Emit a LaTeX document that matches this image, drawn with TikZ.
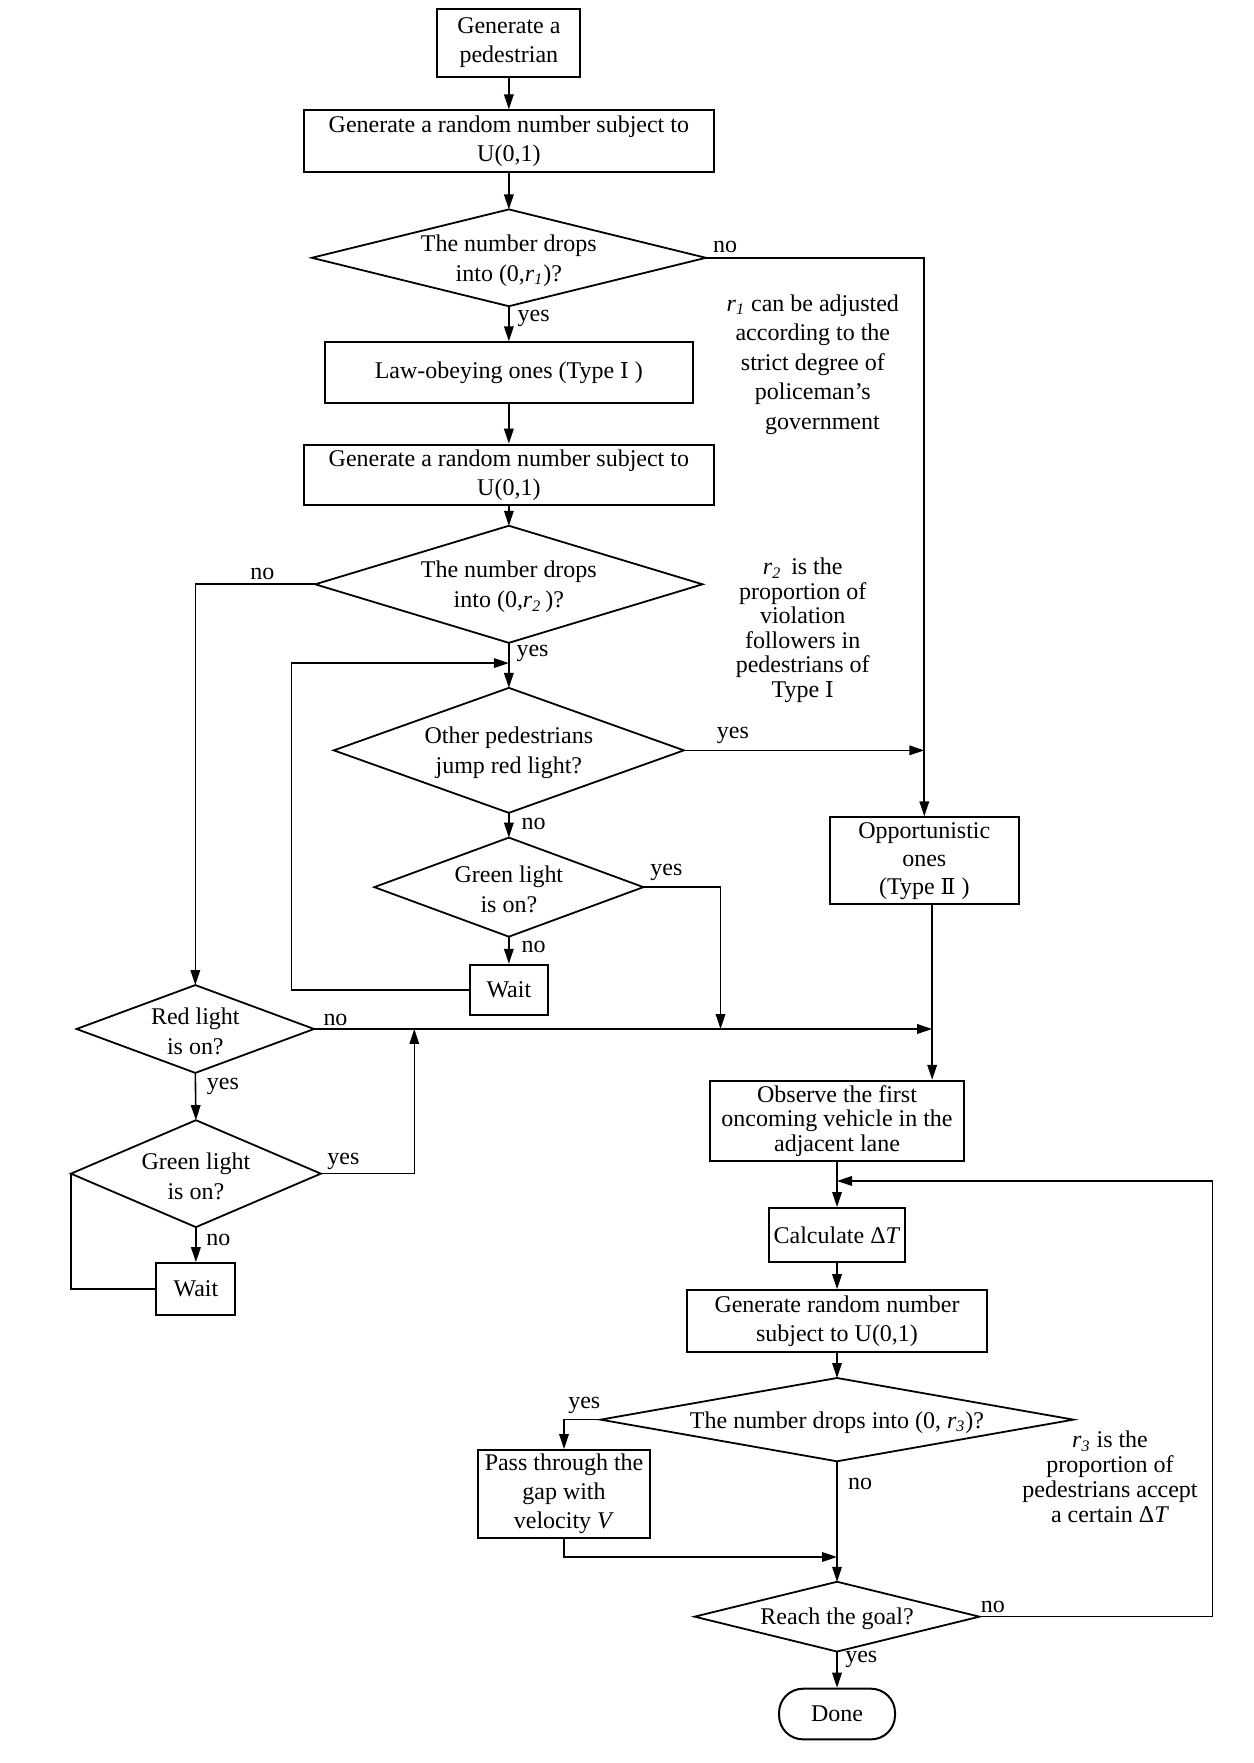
\documentclass[tikz,border=0pt]{standalone}
\usepackage{fontspec}
\setmainfont{Liberation Serif}
\newfontfamily\romf{DejaVu Serif}
\usetikzlibrary{arrows.meta}
\newcommand\rr[1]{\textit{r}\textsubscript{\textit{#1}}}
\newcommand\fs[1]{\fontsize{12}{#1}\selectfont}
\newcommand\TI{{\romf\fontsize{11}{12}\selectfont Ⅰ}}
\newcommand\TII{{\romf\fontsize{11}{12}\selectfont Ⅱ}}
% name, cx, cy, half width, half height, text
\newcommand\mydiam[6]{%
  \node[dtext] (#1) at (#2,#3) {#6};
  \coordinate (#1-n) at (#2,#3-#5);
  \coordinate (#1-s) at (#2,#3+#5);
  \coordinate (#1-w) at (#2-#4,#3);
  \coordinate (#1-e) at (#2+#4,#3);
  \draw[shp] (#1-n) -- (#1-e) -- (#1-s) -- (#1-w) -- cycle;
}
\begin{document}
\begin{tikzpicture}[x=0.5633pt,y=-0.5633pt,
  shp/.style={line width=0.9pt, line join=miter},
  box/.style={draw, line width=1pt, inner sep=1pt, align=center, font=\fs{14.8}},
  sz/.style 2 args={minimum width={#1*0.5633pt}, minimum height={#2*0.5633pt}},
  dtext/.style={inner sep=0pt, align=center, font=\fs{15}, yshift=-1.3pt},
  lab/.style={inner sep=0pt, font=\fs{14}},
  note/.style={inner sep=0pt, align=center, yshift=-1pt},
  conn/.style={line width=0.8pt},
  arr/.style={conn, -{Triangle[length=7.5pt,width=4.8pt]}}
]
\useasboundingbox (0,0) rectangle (1113,1566);

% ---------- upper column ----------
\node[box, sz={127}{60}] (gen) at (452,38) {Generate a\\pedestrian};
\node[box, sz={364}{55}] (rnd1) at (452,125.5) {Generate a random number subject to\\U(0,1)};
\mydiam{d1}{452}{229}{175}{43}{The number drops\\into (0,\rr{1})?}
\node[box, sz={327}{54}] (law) at (452,331) {Law-obeying ones (Type \TI\ )};
\node[box, sz={364}{54}] (rnd2) at (452,422) {Generate a random number subject to\\U(0,1)};
\mydiam{d2}{452}{519}{172}{52}{The number drops\\into (0,\rr{2}\,)?}
\mydiam{d3}{452}{666.5}{155.5}{55.5}{Other pedestrians\\jump red light?}
\mydiam{d4}{452}{788}{119.5}{44}{Green light\\is on?}
\node[box, sz={69}{45}] (wait1) at (452,879.5) {Wait};
\node[box, sz={168}{77}, font=\fs{14}] (opp) at (821,764.5) {Opportunistic\\ones\\(Type \TII\ )};

% ---------- left column ----------
\mydiam{red}{173.5}{914}{105.5}{39}{Red light\\is on?}
\mydiam{g2}{174}{1042.5}{111}{47.5}{Green light\\is on?}
\node[box, sz={70}{46}] (wait2) at (174,1145) {Wait};

% ---------- lower column ----------
\node[box, sz={225}{71}, font=\fs{12.3}] (obs) at (743.5,995.5) {Observe the first\\oncoming vehicle in the\\adjacent lane};
\node[box, sz={120}{48}] (calc) at (743.5,1097) {Calculate Δ\textit{T}};
\node[box, sz={266}{55}] (rnd3) at (743.5,1173.5) {Generate random number\\subject to U(0,1)};
\mydiam{d5}{743.5}{1261}{210}{37}{The number drops into (0, \rr{3})?}
\node[box, sz={152}{78}, font=\fs{14.5}] (pass) at (501,1327) {Pass through the\\gap with\\velocity \textit{V}};
\mydiam{d6}{743.5}{1436}{126.5}{31}{Reach the goal?}
\node[draw, line width=1pt, rounded corners=12pt, sz={103}{45}, font=\fs{15}] (done) at (743.5,1522.5) {Done};

% ---------- notes ----------
\node[note, font=\fs{14.8}] (n1) at (722,322) {\rr{1} can be adjusted\\according to the\\strict degree of\\policeman’s\hspace*{1.2em}\\\hspace*{0.8em}government};
\node[note, font=\fs{12.3}] (n2) at (713,558) {\rr{2}\, is the\\proportion of\\violation\\followers in\\pedestrians of\\Type \TI};
\node[note, font=\fs{12.4}] (n3) at (986,1310) {\rr{3} is the\\proportion of\\pedestrians accept\\a certain Δ\textit{T}};

% ---------- junction points ----------
\coordinate (lp1) at (259,589);
\coordinate (j1) at (452,589);
\coordinate (j2) at (821,666.5);
\coordinate (j3) at (640,914);
\coordinate (j4) at (828,914);
\coordinate (j5) at (368,914);
\coordinate (lp2) at (1077,1049);
\coordinate (j6) at (743.5,1049);
\coordinate (j7) at (743.5,1383);

% ---------- connectors ----------
\draw[arr] (gen) -- (rnd1);
\draw[arr] (rnd1) -- (d1-n);
\draw[arr] (d1-s) -- (law);
\draw[arr] (d1-e) -| (opp);
\draw[arr] (law) -- (rnd2);
\draw[arr] (rnd2) -- (d2-n);
\draw[arr] (d2-s) -- (d3-n);
\draw[arr] (d2-w) -| (red-n);
\draw[arr] (wait1.west) -| (lp1) -- (j1);
\draw[arr] (d3-e) -- (j2);
\draw[arr] (d3-s) -- (d4-n);
\draw[arr] (d4-s) -- (wait1);
\draw[arr] (d4-e) -| (j3);
\draw[arr] (red-e) -- (j4);
\draw[arr] (red-s) -- (g2-n);
\draw[arr] (g2-e) -| (j5);
\draw[arr] (g2-s) -- (wait2);
\draw[conn] (wait2.west) -| (g2-w);
\draw[arr] (opp.south -| j4) -- (obs.north -| j4);
\draw[arr] (obs) -- (calc);
\draw[arr] (d6-e) -| (lp2) -- (j6);
\draw[arr] (calc) -- (rnd3);
\draw[arr] (rnd3) -- (d5-n);
\draw[arr] (d5-w) -| (pass);
\draw[arr] (d5-s) -- (d6-n);
\draw[arr] (pass.south) |- (j7);
\draw[arr] (d6-s) -- (done);

% ---------- labels ----------
\node[lab] (l1) at (644,219) {no};
\node[lab] (l2) at (474,283) {yes};
\node[lab] (l3) at (233,510) {no};
\node[lab] (l4) at (473,580) {yes};
\node[lab] (l5) at (651,653) {yes};
\node[lab] (l6) at (474,732) {no};
\node[lab] (l7) at (592,775) {yes};
\node[lab] (l8) at (474,841) {no};
\node[lab] (l9) at (298,906) {no};
\node[lab] (l10) at (198,965) {yes};
\node[lab] (l11) at (305,1032) {yes};
\node[lab] (l12) at (194,1101) {no};
\node[lab] (l13) at (519,1248) {yes};
\node[lab] (l14) at (764,1318) {no};
\node[lab] (l15) at (882,1427) {no};
\node[lab] (l16) at (765,1474) {yes};
\end{tikzpicture}
\end{document}
